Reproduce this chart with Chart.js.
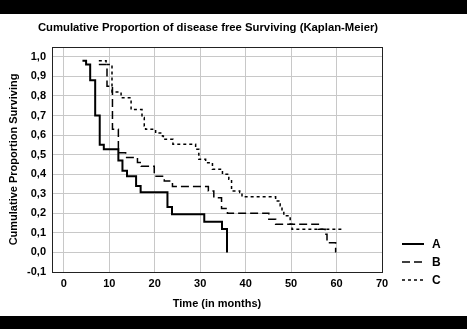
<!DOCTYPE html>
<html><head><meta charset="utf-8">
<script src="https://cdn.jsdelivr.net/npm/chart.js@4/dist/chart.umd.min.js"></script>
<style>html,body{margin:0;padding:0;background:#fff;overflow:hidden}</style>
</head><body>
<canvas id="c" width="467" height="329" style="display:block;width:467px;height:329px"></canvas>
<script>
const chartTitle = 'Cumulative Proportion of disease free Surviving (Kaplan-Meier)';
const seriesNames = ['A', 'B', 'C'];
const timeA = [4.1, 4.9, 5.8, 6.9, 7.9, 8.8, 12.0, 12.9, 13.9, 15.9, 16.9, 22.8, 23.8, 30.9, 34.8, 35.9];
const survA = [0.98, 0.96, 0.88, 0.70, 0.55, 0.527, 0.47, 0.417, 0.39, 0.34, 0.307, 0.232, 0.195, 0.157, 0.12, 0.0];
const timeB = [7.7, 9.5, 10.7, 12.0, 13.6, 16.2, 17.0, 19.9, 22.1, 23.9, 31.8, 33.0, 34.7, 36.0, 45.1, 46.6, 56.0, 57.5, 57.9, 59.8];
const survB = [0.96, 0.85, 0.63, 0.51, 0.485, 0.46, 0.44, 0.39, 0.365, 0.337, 0.314, 0.28, 0.224, 0.2, 0.17, 0.144, 0.119, 0.093, 0.05, 0.0];
const timeC = [7.7, 9.3, 10.6, 12.6, 14.8, 17.2, 17.7, 18.0, 20.2, 21.7, 21.9, 24.0, 29.0, 29.7, 31.2, 32.7, 34.9, 36.3, 36.9, 38.7, 39.2, 46.6, 47.6, 48.0, 48.4, 49.8, 50.2, 61.2];
const survC = [0.98, 0.96, 0.82, 0.79, 0.73, 0.69, 0.646, 0.63, 0.61, 0.595, 0.578, 0.553, 0.527, 0.476, 0.459, 0.425, 0.40, 0.374, 0.314, 0.306, 0.284, 0.263, 0.238, 0.212, 0.187, 0.144, 0.119, 0.119];
const xTickValues = [0, 10, 20, 30, 40, 50, 60, 70];
const yTickValues = [-0.1, 0.0, 0.1, 0.2, 0.3, 0.4, 0.5, 0.6, 0.7, 0.8, 0.9, 1.0];

const FONT = "'Liberation Sans', Arial, sans-serif";
const toPts = (t, s) => t.map((v, i) => ({x: v, y: s[i]}));
const styles = [
  {borderWidth: 2, borderDash: []},
  {borderWidth: 1.5, borderDash: [8, 4]},
  {borderWidth: 1.5, borderDash: [3, 3]}
];
const seriesData = [toPts(timeA, survA), toPts(timeB, survB), toPts(timeC, survC)];

const bgPlugin = {
  id: 'bg',
  beforeDraw(chart) {
    const ctx = chart.ctx;
    ctx.save();
    ctx.fillStyle = '#fff';
    ctx.fillRect(0, 0, chart.width, chart.height);
    ctx.fillStyle = '#000';
    ctx.fillRect(0, 0, chart.width, 14);
    ctx.fillRect(0, 316, chart.width, chart.height - 316);
    ctx.restore();
  },
  afterDraw(chart) {
    const ctx = chart.ctx, a = chart.chartArea;
    ctx.save();
    ctx.strokeStyle = '#222';
    ctx.lineWidth = 1;
    ctx.strokeRect(Math.round(a.left) + 0.5, Math.round(a.top) + 0.5, Math.round(a.right - a.left), Math.round(a.bottom - a.top));
    // title
    ctx.fillStyle = '#000';
    ctx.font = 'bold 11.3px ' + FONT;
    ctx.textAlign = 'center';
    ctx.textBaseline = 'middle';
    ctx.fillText(chartTitle, 208, 28);
    // legend
    const ys = [244, 262, 280];
    chart.data.datasets.forEach((ds, i) => {
      ctx.strokeStyle = '#000';
      ctx.lineWidth = ds.borderWidth;
      ctx.setLineDash(ds.borderDash);
      ctx.beginPath();
      ctx.moveTo(402, ys[i]); ctx.lineTo(424, ys[i]);
      ctx.stroke();
      ctx.setLineDash([]);
      ctx.fillStyle = '#000';
      ctx.font = 'bold 12px ' + FONT;
      ctx.textBaseline = 'middle';
      ctx.textAlign = 'left';
      ctx.fillText(ds.label, 432, ys[i] + 1);
    });
    ctx.restore();
  }
};

new Chart(document.getElementById('c'), {
  type: 'scatter',
  data: {
    datasets: seriesNames.map((n, i) => ({
      label: n,
      data: seriesData[i],
      showLine: true,
      stepped: 'before',
      borderColor: '#000',
      backgroundColor: '#000',
      borderWidth: styles[i].borderWidth,
      borderDash: styles[i].borderDash,
      pointRadius: 0,
      fill: false
    }))
  },
  options: {
    responsive: false,
    devicePixelRatio: 1,
    animation: false,
    layout: {padding: {top: 47, right: 85, bottom: 13, left: 0}},
    plugins: {
      legend: {display: false},
      tooltip: {enabled: false},
      title: {display: false}
    },
    scales: {
      x: {
        type: 'linear',
        min: -2.6, max: 70,
        afterFit: s => { s.height = 44; },
        afterBuildTicks: s => { s.ticks = xTickValues.map(v => ({value: v})); },
        ticks: {stepSize: 10, includeBounds: false, padding: 5, color: '#000', font: {family: FONT, size: 11, weight: 'bold'}},
        grid: {color: '#c8c8c8', drawTicks: false, tickLength: 0},
        border: {display: false},
        title: {display: true, text: 'Time (in months)', color: '#000', font: {family: FONT, size: 11, weight: 'bold'}, padding: {top: 0, bottom: 5}}
      },
      y: {
        type: 'linear',
        min: -0.1, max: 1.05,
        afterFit: s => { s.width = 52; },
        afterBuildTicks: s => { s.ticks = yTickValues.map(v => ({value: v})); },
        ticks: {
          stepSize: 0.1, includeBounds: false, padding: 6, color: '#000',
          font: {family: FONT, size: 11, weight: 'bold'},
          callback: v => v.toFixed(1).replace('.', ',')
        },
        grid: {color: '#c8c8c8', drawTicks: false, tickLength: 0},
        border: {display: false},
        title: {display: true, text: 'Cumulative Proportion Surviving', color: '#000', font: {family: FONT, size: 11, weight: 'bold'}, padding: {top: 7, bottom: 0}}
      }
    }
  },
  plugins: [bgPlugin]
});
</script>
</body></html>
